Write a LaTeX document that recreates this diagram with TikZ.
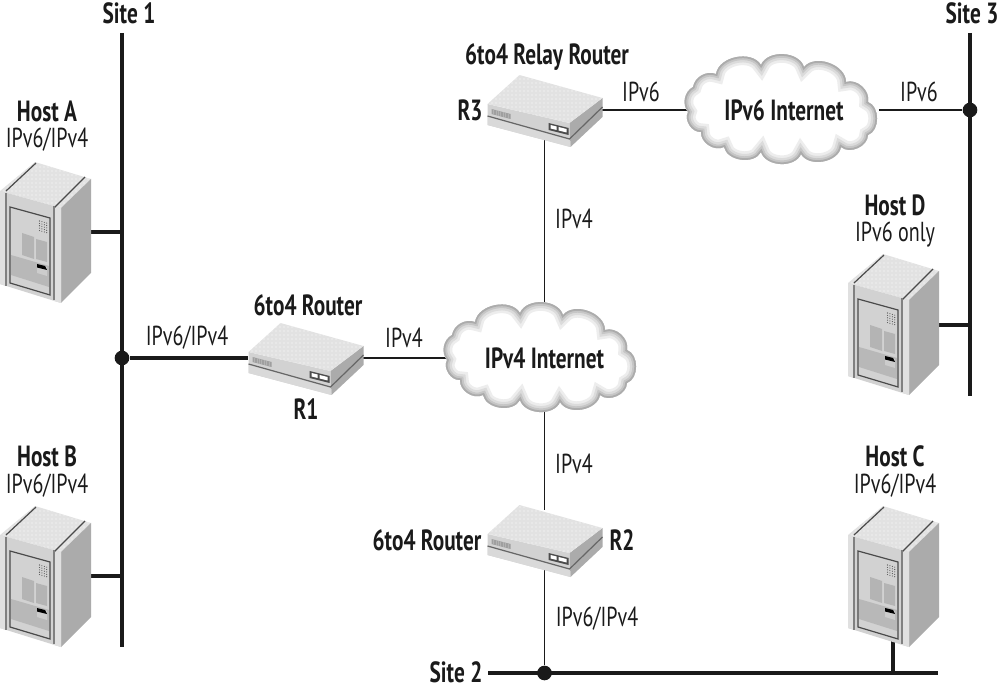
\documentclass[tikz,border=0pt]{standalone}
\usepackage{fontspec}
\setmainfont[FakeStretch=0.73]{PT Sans}
\usetikzlibrary{patterns}
\pgfdeclarelayer{background}
\pgfsetlayers{background,main}
\definecolor{topc}{HTML}{E2E2E2}
\definecolor{frontc}{HTML}{D2D2D2}
\definecolor{sidec}{HTML}{ABABAB}
\definecolor{edgec}{HTML}{4A4A4A}
\definecolor{wirec}{HTML}{1A1A1A}
\tikzset{
  x=0.75pt,y=-0.75pt,
  lab/.style={inner sep=0pt,font=\fontsize{20.6pt}{22pt}\selectfont,text=wirec},
  blab/.style={lab,font=\fontsize{21.9pt}{24pt}\selectfont\bfseries},
  slot/.style={inner sep=0pt,outer sep=0pt,draw=none},
  thin wire/.style={draw=wirec,line width=1.2pt},
  thick wire/.style={draw=wirec,line width=3pt},
  hub/.style={circle,fill=wirec,inner sep=0pt,minimum size=11pt},
  dotted top/.style={pattern=dots,pattern color=white}
}
\newcommand{\serverart}[2]{%
\begin{scope}[shift={(#1,#2)}]
  \fill[topc] (0,0)--(35,-29)--(91,-12)--(61,17)--cycle;
  \fill[dotted top] (0,0)--(35,-29)--(91,-12)--(61,17)--cycle;
  \fill[sidec] (61,17)--(91,-12)--(91,82)--(61,112)--cycle;
  \fill[frontc] (0,0)--(61,17)--(61,112)--(0,93)--cycle;
  \fill[white!88!black] (0,0)--(6,2)--(6,95)--(0,93)--cycle;
  \fill[white!88!black] (54,15)--(61,17)--(61,112)--(54,110)--cycle;
  \draw[edgec,line width=0.9pt] (6,0)--(36,-28);
  \draw[edgec,line width=0.9pt] (54,17)--(85,-14);
  \draw[gray,line width=0.8pt] (6,2)--(6,95);
  \draw[gray,line width=0.8pt] (54,15)--(54,109);
  \fill[sidec!85!white] (11,64)--(49,75)--(49,96)--(11,84)--cycle;
  \draw[edgec,line width=0.9pt] (10,16)--(50,27)--(50,104)--(10,92)--cycle;
  \fill[sidec!90!white] (22,42)--(34,46)--(34,68)--(22,64)--cycle;
  \fill[sidec!90!white] (36,48)--(47,51)--(47,71)--(36,68)--cycle;
  \fill[white!80!black] (37,73)--(47,76)--(47,85)--(37,82)--cycle;
  \fill[black] (37,73)--(45,75)--(47,79)--(37,76.5)--cycle;
  \foreach \i in {0,1,2,3}{\foreach \j in {0,1,2,3,4}{
    \fill[edgec] (39.5+2.4*\i,30+0.7*\i+2.4*\j) circle[radius=0.55];}}
\end{scope}}
\newcommand{\routerart}[2]{%
\begin{scope}[shift={(#1,#2)}]
  \fill[frontc] (-57,-6)--(25,13)--(26,37)--(-57,15)--cycle;
  \fill[sidec] (25,13)--(58,-12)--(58,7)--(26,37)--cycle;
  \fill[topc] (-57,-6)--(-25,-35)--(58,-12)--(25,13)--cycle;
  \fill[dotted top] (-57,-6)--(-25,-35)--(58,-12)--(25,13)--cycle;
  \fill[white!85!black] (-57,7)--(25,30)--(26,37)--(-57,15)--cycle;
  \draw[gray!80!black,line width=0.9pt] (-57,6)--(25,29)--(58,-3);
  \fill[gray!75] (-53,-1)--(-34,4)--(-34,9)--(-53,4)--cycle;
  \foreach \i in {0,1,2,3,4,5,6}{
    \draw[white!70!black,line width=0.35pt] (-51+2.4*\i,-0.5+0.63*\i)--(-51+2.4*\i,4.5+0.63*\i);}
  \fill[gray!60!black] (4,13)--(24,18)--(24,25)--(4,20)--cycle;
  \fill[white] (6,15)--(12,16.5)--(12,20)--(6,18.5)--cycle;
  \fill[white] (14,17)--(22,19)--(22,22.5)--(14,20.5)--cycle;
\end{scope}}
\newcommand{\cloudshape}{(-95,2) to[bend left=50] (-90,-23) to[bend left=50] (-67,-36)
  to[bend left=70] (-22,-45) to[bend left=70] (21,-43) to[bend left=70] (63,-28)
  to[bend left=60] (85,-8) to[bend left=70] (85,25) to[bend left=65] (58,37)
  to[bend left=70] (18,44) to[bend left=70] (-22,42) to[bend left=70] (-59,37)
  to[bend left=60] (-82,22) to[bend left=60] (-95,2) -- cycle}
\newcommand{\cloudart}[2]{%
\begin{scope}[shift={(#1,#2)}]
  \fill[white] \cloudshape;
  \begin{scope}
    \clip \cloudshape;
    \draw[gray!14,line width=13pt] \cloudshape;
    \draw[gray!28,line width=9pt] \cloudshape;
    \draw[gray!45,line width=5.5pt] \cloudshape;
    \draw[gray!65,line width=2.6pt] \cloudshape;
  \end{scope}
\end{scope}}
\begin{document}
\begin{tikzpicture}
\useasboundingbox (0,0) rectangle (1000,691);

% artwork
\serverart{0}{191}
\serverart{0}{535}
\serverart{848}{283}
\serverart{848}{535}
\routerart{305.5}{358}
\routerart{544.5}{540}
\routerart{544.5}{110}
\cloudart{542}{358}
\cloudart{783}{110}

% named nodes
\node[slot,minimum width=68.25pt,minimum height=50pt] (hostA) at (45.5,232) {};
\node[slot,minimum width=68.25pt,minimum height=50pt] (hostB) at (45.5,576) {};
\node[slot,minimum width=68.25pt,minimum height=50pt] (hostD) at (893.5,325) {};
\node[slot,minimum width=10pt,minimum height=45pt] (hostC) at (893,610) {};
\node[slot,minimum width=86.25pt,minimum height=45pt] (r1) at (305.5,358) {};
\node[slot,minimum width=86.25pt,minimum height=45pt] (r2) at (544.5,540) {};
\node[slot,minimum width=86.25pt,minimum height=45pt] (r3) at (544.5,110) {};
\node[blab,minimum width=142pt,minimum height=80pt] (net4) at (544.5,358) {IPv4 Internet};
\node[blab,minimum width=142pt,minimum height=80pt] (net6) at (784,110) {IPv6 Internet};
\node[hub] (hub1) at (122,358) {};
\node[hub] (hub2) at (544.5,673) {};
\node[hub] (hub3) at (970,110) {};
\coordinate (s1top) at (122,33);
\coordinate (s1bot) at (122,647);
\coordinate (s1a) at (122,232);
\coordinate (s1b) at (122,576);
\coordinate (s3top) at (970,33);
\coordinate (s3bot) at (970,396);
\coordinate (s3d) at (970,325);
\coordinate (s2left) at (488,673);
\coordinate (s2right) at (938,673);
\coordinate (s2c) at (893,673);

% labels
\node[blab] (t1) at (129,13) {Site 1};
\node[blab] (t2) at (456,672) {Site 2};
\node[blab] (t3) at (972,13) {Site 3};
\node[blab] (ta) at (47,111) {Host A};
\node[lab] (tan) at (47,140) {IPv6/IPv4};
\node[blab] (tb) at (47,456.5) {Host B};
\node[lab] (tbn) at (47,486) {IPv6/IPv4};
\node[blab] (td) at (895,205.5) {Host D};
\node[lab] (tdn) at (895,235) {IPv6 only};
\node[blab] (tc) at (895,456.5) {Host C};
\node[lab] (tcn) at (895,486) {IPv6/IPv4};
\node[blab] (tr3n) at (547,57) {6to4 Relay Router};
\node[blab] (tr3) at (470,110) {R3};
\node[blab] (tr1n) at (308,305) {6to4 Router};
\node[blab] (tr1) at (306,409) {R1};
\node[blab] (tr2n) at (427,540) {6to4 Router};
\node[blab] (tr2) at (622,540) {R2};
\node[lab] (l1) at (187,338) {IPv6/IPv4};
\node[lab] (l2) at (404,338) {IPv4};
\node[lab] (l3) at (641,92) {IPv6};
\node[lab] (l4) at (919,92) {IPv6};
\node[lab] (l5) at (574,219) {IPv4};
\node[lab] (l6) at (574,464) {IPv4};
\node[lab] (l7) at (597,619) {IPv6/IPv4};

% connectors
\begin{pgfonlayer}{background}
\draw[thick wire] (s1top) -- (s1bot);
\draw[thick wire] (s3top) -- (s3bot);
\draw[thick wire] (s2left) -- (s2right);
\draw[thick wire] (hostA.east) -- (s1a);
\draw[thick wire] (hostB.east) -- (s1b);
\draw[thick wire] (hostD.east) -- (s3d);
\draw[thick wire] (hostC.south) -- (s2c);
\draw[thick wire] (hub1) -- (r1.west);
\draw[thin wire] (r1.east) -- (net4.west);
\draw[thin wire] (r3.east) -- (net6.west);
\draw[thin wire] (net6.east) -- (hub3);
\draw[thin wire] (r3.south) -- (net4.north);
\draw[thin wire] (net4.south) -- (r2.north);
\draw[thin wire] (r2.south) -- (hub2);
\end{pgfonlayer}
\end{tikzpicture}
\end{document}
